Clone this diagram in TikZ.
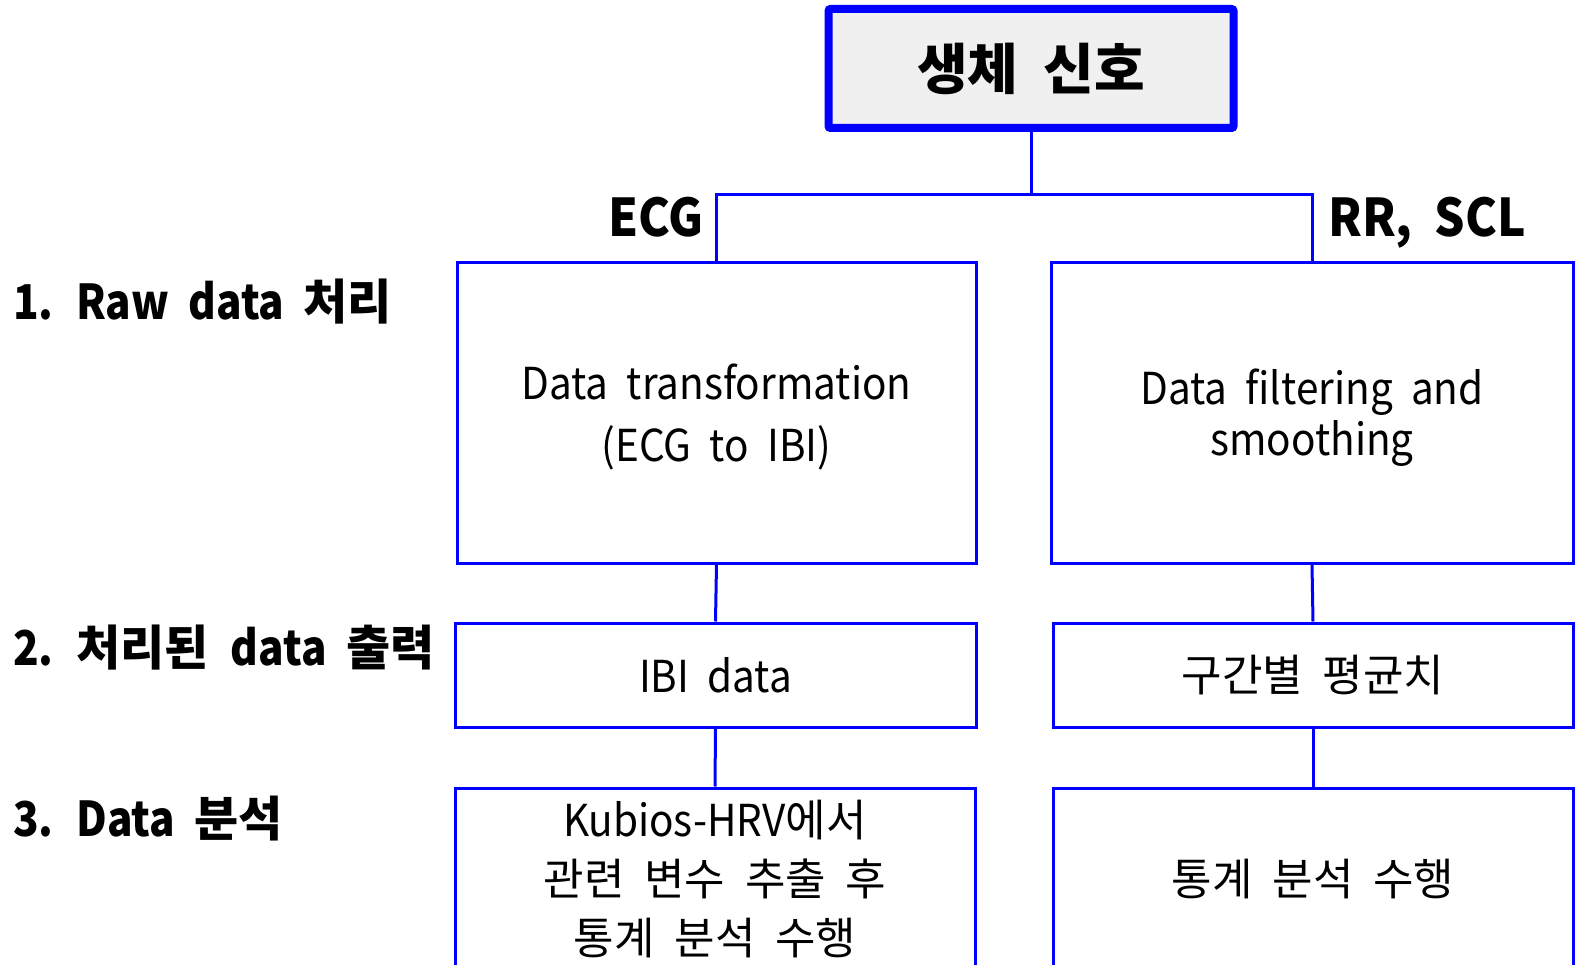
\documentclass[tikz,border=0pt]{standalone}
\usepackage{fontspec}
\setmainfont{Noto Sans CJK KR}[WordSpace=2]
\newfontfamily\lat{Noto Sans CJK KR}[FakeStretch=0.92, WordSpace=2]
\newfontfamily\latn{Noto Sans CJK KR}[FakeStretch=0.88, WordSpace=2]
\begin{document}
\begin{tikzpicture}[x=1pt,y=-1pt,
  box/.style={draw=blue, line width=3pt, rectangle, inner sep=0pt, align=center,
    font=\fontsize{44}{60}\selectfont},
  txt/.style={inner sep=0pt, align=center},
  topbox/.style={draw=blue, line width=8pt, fill=black!6, rectangle, rounded corners=2pt,
    inner sep=0pt, font=\bfseries\fontsize{55}{60}\selectfont},
  head/.style={inner sep=0pt, font=\bfseries\fontsize{52}{60}\selectfont},
  stage/.style={inner sep=0pt, anchor=west, font=\bfseries\fontsize{48}{58}\selectfont},
  link/.style={draw=blue, line width=3pt}]
\useasboundingbox (0,0) rectangle (1575,965);
\clip (0,0) rectangle (1575,965);

\node[topbox, minimum width=405, minimum height=119] (top) at (1031,68.5) {생체 신호};

\node[box, minimum width=519, minimum height=300] (A) at (716.5,413) {};
\node[txt, font=\fontsize{44}{62}\selectfont] (At) at ([yshift=-4pt]A.center)
  {{\lat Data transformation}\\{\lat (ECG to IBI)}};
\node[box, minimum width=522, minimum height=300] (B) at (1312,413) {};
\node[txt, font=\fontsize{44}{51}\selectfont] (Bt) at ([yshift=-5pt]B.center)
  {{\lat Data filtering and}\\{\lat smoothing}};
\node[box, minimum width=521, minimum height=104] (C) at (715.5,675) {\lat IBI data};
\node[box, minimum width=520, minimum height=104] (D) at (1313,675) {구간별 평균치};
\node[box, minimum width=520, minimum height=182, font=\fontsize{44}{59}\selectfont] (E) at (715,879)
  {{\lat Kubios-HRV}에서\\관련 변수 추출 후\\통계 분석 수행};
\node[box, minimum width=520, minimum height=182] (F) at (1313,879) {통계 분석 수행};

\coordinate (j) at (1031,195);
\draw[link] (top.south) -- (j);
\draw[link] (A.north) |- (j);
\draw[link] (B.north) |- (j);
\draw[link] (A.south) -- (C.north);
\draw[link] (B.south) -- (D.north);
\draw[link] (C.south) -- (E.north);
\draw[link] (D.south) -- (F.north);

\node[head, anchor=base east] (ecg) at (704,237) {\lat ECG};
\node[head, anchor=base west] (rr) at (1328,237) {\lat RR, SCL};

\node[stage] (s1) at (13,302) {{\latn 1. Raw data }처리};
\node[stage] (s2) at (13,648) {{\latn 2. }처리된 {\latn data }출력};
\node[stage] (s3) at (13,819) {{\latn 3. Data }분석};
\end{tikzpicture}
\end{document}
